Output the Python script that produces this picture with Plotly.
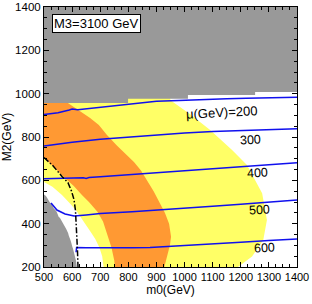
import plotly.graph_objects as go

# ---- region boundaries (m0, M2) in GeV ----
yellow_m0 = [500, 945, 950, 1020, 1091, 1169, 1222, 1276, 1293, 1280, 1240, 1190,
             712, 707, 697, 682, 662, 640, 615, 595, 564, 530, 500]
yellow_M2 = [1000, 1000, 970, 905, 832, 740, 671, 540, 417, 325, 248, 200,
             200, 250, 290, 330, 370, 410, 460, 490, 532, 570, 592]

orange_m0 = [500, 590, 585, 610, 640, 664, 695, 724, 760, 790, 820, 845, 866, 890, 910,
             930, 945, 952, 948, 940, 928, 752, 750, 740, 725, 710, 690, 660, 635, 605,
             582, 560, 530, 500]
orange_M2 = [985, 985, 957, 935, 910, 888, 855, 809, 760, 722, 685, 645, 602, 550, 500,
             450, 400, 340, 300, 260, 200, 200, 230, 290, 350, 410, 455, 500, 532, 575,
             602, 630, 668, 705]

gray_top_m0 = [500, 500, 799, 799, 1012, 1012, 1251, 1251, 1400, 1400]
gray_top_M2 = [1400, 957, 957, 977, 977, 994, 994, 1008, 1008, 1400]

gray_low_m0 = [500, 500, 507, 510, 518, 521, 528, 532, 535, 541, 545, 549, 552, 557, 560,
               564, 567, 571, 575, 579, 582, 586, 588, 592, 594, 597, 598, 601, 603, 606,
               608, 611, 612, 614, 615, 617]
gray_low_M2 = [200, 535, 528, 520, 505, 498, 490, 478, 470, 462, 455, 442, 432, 426, 420,
               410, 400, 392, 385, 375, 368, 356, 345, 335, 325, 312, 300, 292, 285, 272,
               262, 250, 240, 228, 215, 200]

# exclusion boundary (dash-dot)
excl_m0 = [500, 530, 564, 585, 598, 607, 612, 615, 617, 619, 621]
excl_M2 = [705, 670, 618, 590, 550, 510, 460, 400, 340, 280, 200]

# mu contours
mu_values = [200, 300, 400, 500, 600]
mu200_m0 = [500, 550, 590, 600, 620, 700, 750, 830, 900, 980, 1050, 1150, 1220, 1300, 1400]
mu200_M2 = [904, 912, 925, 929, 926, 938, 946, 958, 965, 968, 970, 976, 979, 982, 984]
mu300_m0 = [500, 600, 700, 800, 900, 1000, 1100, 1200, 1300, 1400]
mu300_M2 = [758, 776, 790, 800, 810, 818, 825, 830, 834, 838]
mu400_m0 = [500, 600, 640, 650, 660, 700, 800, 900, 1000, 1100, 1200, 1300, 1400]
mu400_M2 = [607, 611, 612, 609, 613, 616, 625, 634, 643, 653, 663, 672, 681]
mu500_m0 = [525, 546, 575, 607, 650, 700, 813, 877, 1000, 1100, 1200, 1300, 1400]
mu500_M2 = [495, 463, 445, 435, 440, 447, 455, 460, 470, 480, 490, 500, 509]
mu600_m0 = [614, 616, 650, 700, 813, 877, 1000, 1100, 1200, 1300, 1400]
mu600_M2 = [268, 290, 289, 288, 289, 290, 298, 306, 314, 322, 329]

label_m0 = [1130, 1233, 1258, 1268, 1286]
label_M2 = [915, 786, 634, 463, 288]

x_ticks = [500, 600, 700, 800, 900, 1000, 1100, 1200, 1300, 1400]
y_ticks = [200, 400, 600, 800, 1000, 1200, 1400]

YELLOW = "#FFFF66"
ORANGE = "#FF9933"
GRAY = "#999999"
BLUE = "#1010EE"

fig = go.Figure()
for xs, ys, c in [(yellow_m0, yellow_M2, YELLOW), (orange_m0, orange_M2, ORANGE),
                  (gray_top_m0, gray_top_M2, GRAY), (gray_low_m0, gray_low_M2, GRAY)]:
    fig.add_trace(go.Scatter(x=xs, y=ys, fill="toself", fillcolor=c, mode="lines",
                             line=dict(width=0, color=c), hoverinfo="skip", showlegend=False))

for xs, ys in [(mu200_m0, mu200_M2), (mu300_m0, mu300_M2), (mu400_m0, mu400_M2),
               (mu500_m0, mu500_M2), (mu600_m0, mu600_M2)]:
    fig.add_trace(go.Scatter(x=xs, y=ys, mode="lines", line=dict(color=BLUE, width=1.5),
                             showlegend=False))

fig.add_trace(go.Scatter(x=excl_m0, y=excl_M2, mode="lines",
                         line=dict(color="black", width=1.5, dash="6px,2px,1.5px,2px"),
                         showlegend=False))

FONT = "Liberation Sans, Arial, sans-serif"
for i, (mx, my, v) in enumerate(zip(label_m0, label_M2, mu_values)):
    txt = "μ(GeV)=%d" % v if i == 0 else str(v)
    fig.add_annotation(x=mx, y=my, text=txt, showarrow=False, textangle=-3,
                       font=dict(family=FONT, size=13 if i == 0 else 12.5, color="black"))

fig.add_annotation(x=0.03, y=0.975, xref="paper", yref="paper", xanchor="left", yanchor="top",
                   text="M3=3100 GeV", showarrow=False, bgcolor="white", bordercolor="black",
                   borderwidth=1, borderpad=1, font=dict(family=FONT, size=13, color="black"))

axis_common = dict(showgrid=False, zeroline=False, showline=True, linecolor="black", linewidth=1,
                   mirror="allticks", ticks="inside", ticklen=5, tickcolor="black",
                   automargin=False)

fig.update_xaxes(range=[500, 1400], tickvals=x_ticks, tickangle=0,
                 tickfont=dict(family=FONT, size=11, color="black"),
                 title=dict(text="m0(GeV)", standoff=2,
                            font=dict(family=FONT, size=12, color="black")),
                 minor=dict(dtick=25, ticks="inside", ticklen=3, tickcolor="black"), **axis_common)
fig.update_yaxes(range=[200, 1400], tickvals=y_ticks,
                 tickfont=dict(family=FONT, size=11.5, color="black"),
                 title=dict(text="M2(GeV)", standoff=4,
                            font=dict(family=FONT, size=12, color="black")),
                 minor=dict(dtick=50, ticks="inside", ticklen=3, tickcolor="black"), **axis_common)

fig.update_layout(width=312, height=304, margin=dict(l=44, r=15, t=7, b=37),
                  plot_bgcolor="white", paper_bgcolor="white", showlegend=False)

fig.write_html("out.html", config={"displayModeBar": False, "staticPlot": True},
               post_script="document.body.style.margin='0';")
